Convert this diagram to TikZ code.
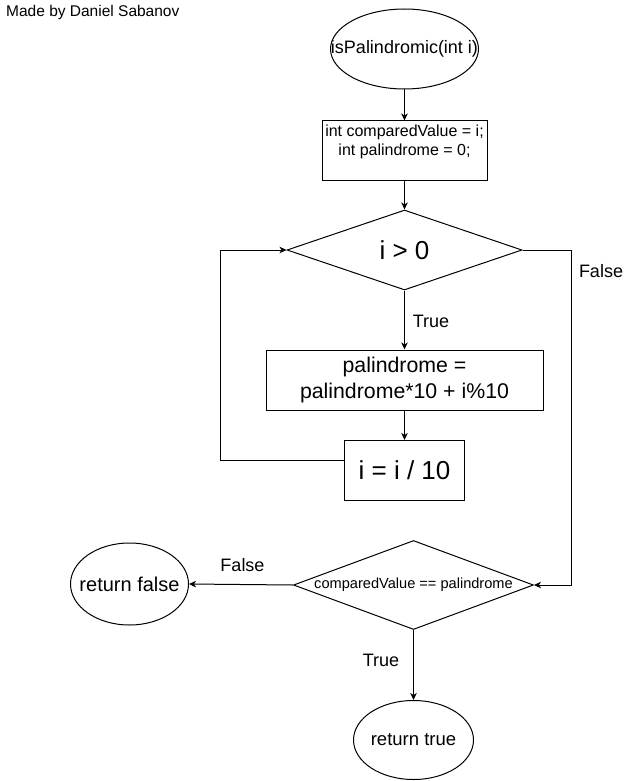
\documentclass[tikz,border=0pt]{standalone}
\usepackage{fontspec}
\setmainfont{Liberation Sans}
\usetikzlibrary{shapes.geometric,arrows.meta}
\tikzset{
  base/.style={draw=black, line width=1pt, inner sep=0pt, text=black},
  ell/.style={base, ellipse},
  boxnode/.style={base, rectangle},
  dia/.style={base, diamond},
  plain/.style={inner sep=0pt, text=black},
  arr/.style={line width=1pt, -{Stealth[length=7pt,width=6.5pt,inset=2pt]}},
}
\newcommand\zw[1]{\makebox[0pt][c]{#1}}
\begin{document}
\begin{tikzpicture}[x=1pt,y=-1pt]
\useasboundingbox (0,0) rectangle (625,781);

\node[plain, anchor=west, font=\fontsize{15.5}{18}\selectfont] (credit) at (6,12) {Made by Daniel Sabanov};

\node[ell, minimum width=148, minimum height=80, font=\fontsize{18}{21}\selectfont] (start) at (404.5,49) {\zw{isPalindromic(int i)}};

\node[boxnode, minimum width=165, minimum height=59] (init) at (404.5,150.5) {};
\node[plain, anchor=north, align=center, font=\fontsize{16}{19}\selectfont] (inittext) at (404.5,125) {int comparedValue = i;\\int palindrome = 0;};

\node[dia, minimum width=235, minimum height=80, aspect=2.9, font=\fontsize{26}{30}\selectfont] (d1) at (404.5,250) {i > 0};

\node[boxnode, minimum width=277, minimum height=60, align=center, font=\fontsize{21.3}{26}\selectfont] (body) at (404.5,380) {palindrome =\\palindrome*10 + i\%10};

\node[boxnode, minimum width=120, minimum height=60, font=\fontsize{26}{30}\selectfont] (step) at (404.5,470.5) {i = i / 10};

\node[dia, minimum width=240, minimum height=89, aspect=2.7, font=\fontsize{14.6}{17}\selectfont] (d2) at (413.5,585) {comparedValue == palindrome};

\node[ell, minimum width=118, minimum height=82, font=\fontsize{20}{24}\selectfont] (rf) at (129.5,584) {\zw{return false}};

\node[ell, minimum width=120, minimum height=79, font=\fontsize{18.5}{22}\selectfont] (rt) at (413.5,740) {\zw{return true}};

% labels
\node[plain, font=\fontsize{18}{21}\selectfont] (lt1) at (431,321.5) {True};
\node[plain, font=\fontsize{18}{21}\selectfont] (lf1) at (601,271) {False};
\node[plain, font=\fontsize{18}{21}\selectfont] (lf2) at (242.5,565.5) {False};
\node[plain, font=\fontsize{18}{21}\selectfont] (lt2) at (381,660.5) {True};

% connectors
\draw[arr] (start.south) -- (init.north);
\draw[arr] (init.south) -- (d1.north);
\draw[arr] (d1.south) -- (body.north);
\draw[arr] (body.south) -- (step.north);
\draw[arr] ([yshift=10pt]step.west) -- ++(-124,0) |- (d1.west);
\draw[arr] (d1.east) -- ++(49,0) |- (d2.east);
\draw[arr] (d2.west) -- (rf.east);
\draw[arr] (d2.south) -- (rt.north);
\end{tikzpicture}
\end{document}
